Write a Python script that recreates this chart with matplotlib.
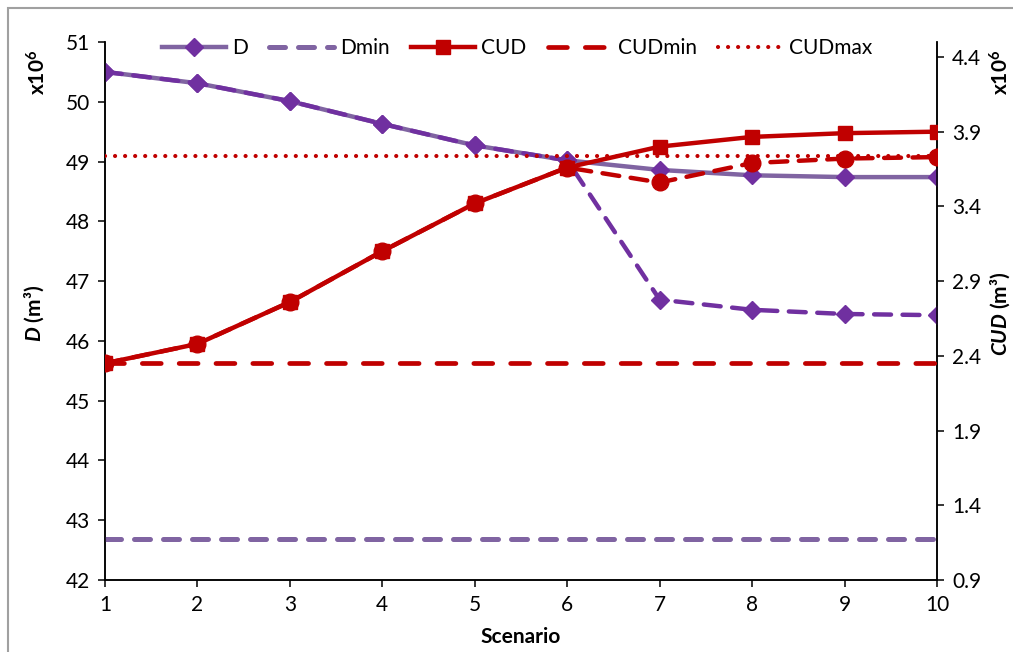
import matplotlib.pyplot as plt
from matplotlib.patches import Rectangle

# データ
scenario = [1, 2, 3, 4, 5, 6, 7, 8, 9, 10]
d = [50.50, 50.31, 50.01, 49.63, 49.27, 49.02, 48.86, 48.77, 48.74, 48.74]
d_alt = [50.50, 50.31, 50.01, 49.63, 49.27, 49.02, 46.69, 46.52, 46.45, 46.43]
d_min = [42.69] * 10
cud = [2.35, 2.48, 2.76, 3.10, 3.42, 3.66, 3.80, 3.865, 3.89, 3.90]
cud_alt = [2.35, 2.48, 2.76, 3.10, 3.42, 3.66, 3.56, 3.69, 3.72, 3.73]
cud_min = [2.35] * 10
cud_max = [3.74] * 10

left_ticks = [42, 43, 44, 45, 46, 47, 48, 49, 50, 51]
right_ticks = [0.9, 1.4, 1.9, 2.4, 2.9, 3.4, 3.9, 4.4]

purple_light = '#8064A2'
purple_dark = '#7030A0'
red = '#C00000'

plt.rcParams['font.family'] = ['Lato', 'DejaVu Sans']
plt.rcParams['mathtext.fontset'] = 'custom'
plt.rcParams['mathtext.rm'] = 'Lato:bold'
plt.rcParams['mathtext.it'] = 'Lato:bold:italic'

W, H = 1013, 652
fig = plt.figure(figsize=(W / 100, H / 100), dpi=100)
ax = fig.add_axes([105 / W, 1 - 580 / H, 832 / W, 538 / H])
ax2 = ax.twinx()

# 左軸（D）
ax.plot(scenario, d, color=purple_light, lw=3.2, marker='D', ms=9,
        mfc=purple_dark, mec=purple_dark, label='D', zorder=3)
ax.plot(scenario, d_alt, color=purple_dark, lw=3.2, ls=(0, (3.8, 2.6)),
        dash_capstyle='round', marker='D', ms=9, mfc=purple_dark,
        mec=purple_dark, zorder=4)
ax.plot(scenario, d_min, color=purple_light, lw=3.6, ls=(0, (3.2, 2.6)),
        dash_capstyle='round', label='Dmin', zorder=3)

# 右軸（CUD）
ax2.plot(scenario, cud, color=red, lw=3.2, marker='s', ms=10,
         mfc=red, mec=red, label='CUD', zorder=3)
ax2.plot(scenario, cud_alt, color=red, lw=3.2, ls=(0, (3.8, 2.6)),
         dash_capstyle='round', marker='o', ms=12, mfc=red, mec=red, zorder=4)
ax2.plot(scenario, cud_min, color=red, lw=3.4, ls=(0, (4.0, 3.8)),
         dash_capstyle='round', label='CUDmin', zorder=3)
ax2.plot(scenario, cud_max, color=red, lw=3.0, ls=(0, (0.01, 2.4)),
         dash_capstyle='round', label='CUDmax', zorder=3)

ax.set_xlim(1, 10)
ax.set_ylim(42, 51)
ax2.set_ylim(0.9, 4.5)
ax.set_xticks(scenario)
ax.set_yticks(left_ticks)
ax2.set_yticks(right_ticks)
ax2.set_yticklabels([f'{v:.1f}' for v in right_ticks])

for a in (ax, ax2):
    a.spines['top'].set_visible(False)
    for s in ('left', 'right', 'bottom'):
        a.spines[s].set_linewidth(1.1)
    a.tick_params(labelsize=15, length=5, width=1.1, direction='out', pad=6)

# 軸ラベル
fig.text(521 / W, 1 - 637 / H, 'Scenario', ha='center', va='center',
         fontsize=15, fontweight='bold')
fig.text(34 / W, 1 - 313 / H, r'$D$ (m³)', rotation=90, ha='center',
         va='center', fontsize=15, fontweight='bold')
fig.text(38 / W, 1 - 72 / H, r'x10$^{6}$', rotation=90, ha='center',
         va='center', fontsize=15, fontweight='bold')
fig.text(1000 / W, 1 - 314 / H, r'$CUD$ (m³)', rotation=90, ha='center',
         va='center', fontsize=15, fontweight='bold')
fig.text(1001 / W, 1 - 72 / H, r'x10$^{6}$', rotation=90, ha='center',
         va='center', fontsize=15, fontweight='bold')

# 凡例
h1, l1 = ax.get_legend_handles_labels()
h2, l2 = ax2.get_legend_handles_labels()
fig.legend(h1 + h2, l1 + l2, loc='center', bbox_to_anchor=(517 / W, 1 - 48 / H),
           ncol=5, frameon=False, fontsize=15, handlelength=3.1,
           handletextpad=0.3, columnspacing=1.0)

# 外枠
fig.patches.append(Rectangle((8 / W, -0.1), 2, 1 - 8 / H + 0.1, fill=False,
                             edgecolor='#A0A0A0', lw=1.5,
                             transform=fig.transFigure))

fig.savefig('out.png', dpi=100)
